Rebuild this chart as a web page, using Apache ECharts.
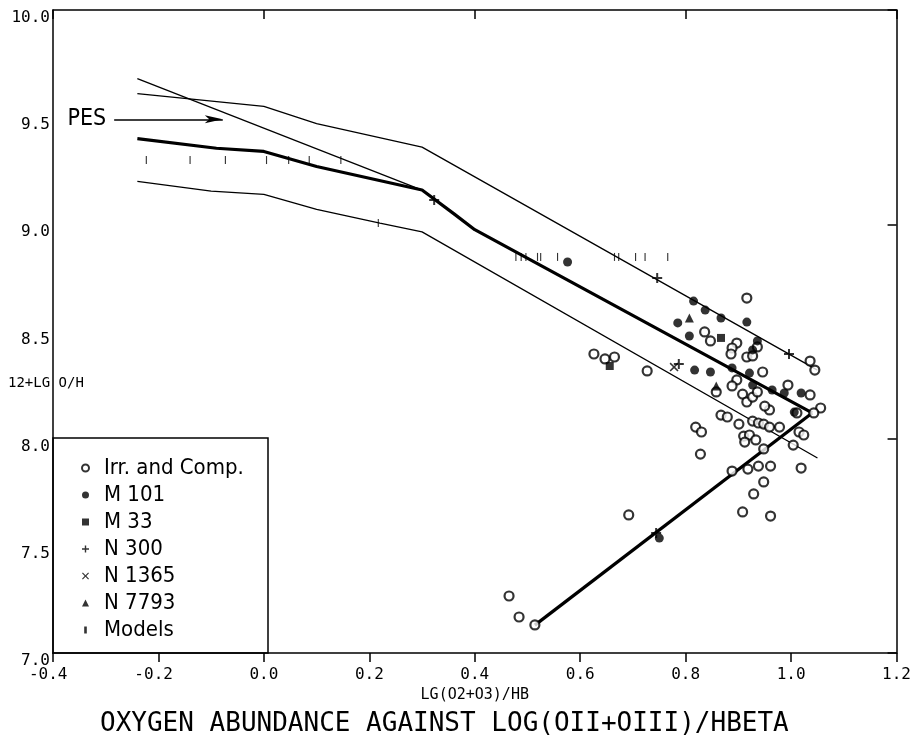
<!DOCTYPE html>
<html><head><meta charset="utf-8">
<script src="https://cdn.jsdelivr.net/npm/echarts@6/dist/echarts.min.js"></script>
<style>html,body{margin:0;padding:0;background:#fff}#c{width:914px;height:743px}</style>
</head><body><div id="c"></div>
<script>
// ---- axis ranges / tick labels ----
const xMin = -0.4, xMax = 1.2, xStep = 0.2;
const yMin = 7.0, yMax = 10.0, yStep = 0.5;

// ---- observed data ----
const irrComp = [
  [0.916,8.656],[0.836,8.498],[0.847,8.456],[0.897,8.446],[0.888,8.423],[0.886,8.395],
  [0.916,8.381],[0.927,8.386],[0.936,8.428],[1.036,8.362],[1.045,8.320],[0.946,8.311],
  [0.897,8.274],[0.888,8.246],[0.858,8.218],[0.908,8.208],[0.916,8.171],[0.927,8.194],
  [0.936,8.218],[0.994,8.250],[1.036,8.204],[0.959,8.134],[0.950,8.152],[1.056,8.143],
  [1.043,8.120],[1.011,8.120],[0.867,8.110],[0.879,8.101],[0.901,8.068],[0.927,8.082],
  [0.938,8.073],[0.948,8.068],[0.959,8.054],[0.978,8.054],[0.819,8.054],[0.830,8.031],
  [0.910,8.012],[0.921,8.017],[0.912,7.984],[0.933,7.994],[1.015,8.031],[1.024,8.017],
  [1.004,7.970],[0.828,7.928],[0.948,7.952],[0.888,7.849],[0.918,7.858],[0.938,7.872],
  [0.961,7.872],[1.019,7.863],[0.948,7.798],[0.929,7.742],[0.908,7.658],[0.961,7.639],
  [0.692,7.644],[0.626,8.395],[0.647,8.372],[0.665,8.381],[0.727,8.316],
  [0.465,7.266],[0.484,7.168],[0.514,7.131]
];
const m101 = [
  [0.815,8.642],[0.837,8.600],[0.867,8.563],[0.785,8.540],[0.916,8.544],[0.807,8.479],
  [0.936,8.456],[0.927,8.414],[0.817,8.320],[0.847,8.311],[0.888,8.330],[0.921,8.306],
  [0.927,8.250],[0.964,8.227],[0.987,8.213],[1.019,8.213],[1.006,8.124],
  [0.576,8.824],[0.750,7.536]
];
const m33 = [[0.867,8.470],[0.656,8.339]];
const n300 = [[0.996,8.395],[0.787,8.348],[0.746,8.750],[0.323,9.114],[0.744,7.560]];
const n1365 = [[0.778,8.334]];
const n7793 = [[0.807,8.563],[0.858,8.246]];
const models = [
  [-0.223,9.30],[-0.140,9.30],[-0.073,9.30],[0.005,9.30],[0.047,9.30],[0.086,9.30],[0.146,9.30],
  [0.217,9.006],
  [0.478,8.848],[0.488,8.848],[0.497,8.848],[0.519,8.848],[0.525,8.848],[0.557,8.848],
  [0.665,8.848],[0.673,8.848],[0.705,8.848],[0.723,8.848],[0.766,8.848]
];

// ---- calibration curves ----
const upperBand = [[-0.24,9.61],[0.0,9.55],[0.10,9.47],[0.30,9.36],[1.05,8.32]];
const diagLine  = [[-0.24,9.68],[0.30,9.16]];
const meanLine  = [[-0.24,9.40],[-0.09,9.355],[0.0,9.34],[0.10,9.27],[0.30,9.16],[0.36,9.05],[0.40,8.975],[1.04,8.12]];
const lowerBand = [[-0.24,9.20],[-0.10,9.155],[0.0,9.14],[0.10,9.07],[0.22,9.006],[0.30,8.965],[1.05,7.91]];
const lowBranch = [[0.514,7.13],[1.04,8.12]];

// ---- annotation ----
const pesArrow = [[-0.284,9.49],[-0.078,9.49]];

const MONO = '"DejaVu Sans Mono", monospace';
const COND = '"DejaVu Sans Condensed", "DejaVu Sans", sans-serif';
const PLUS = 'path://M4,0H6V4H10V6H6V10H4V6H0V4H4Z';
const CROSS = 'path://M1.2,0L5,3.8L8.8,0L10,1.2L6.2,5L10,8.8L8.8,10L5,6.2L1.2,10L0,8.8L3.8,5L0,1.2Z';
const BAR = 'path://M0,0H3V8H0Z';

const chart = echarts.init(document.getElementById('c'), null, {renderer: 'canvas'});

function curve(name, data, width) {
  return {
    name, type: 'line', data, showSymbol: false, symbol: 'none', silent: true,
    lineStyle: {color: '#000', width}, z: 2
  };
}
function scatter(name, data, symbol, size, itemStyle, extra) {
  return Object.assign({
    name, type: 'scatter', data, symbol, symbolSize: size,
    itemStyle: Object.assign({color: '#000'}, itemStyle || {}), z: 5
  }, extra || {});
}

const option = {
  animation: false,
  backgroundColor: '#fff',
  title: {
    text: 'OXYGEN ABUNDANCE AGAINST LOG(OII+OIII)/HBETA',
    left: 95, top: 706,
    textStyle: {fontFamily: MONO, fontSize: 26, fontWeight: 'normal', color: '#000'}
  },
  grid: {left: 53, top: 10, width: 852, height: 643, containLabel: false},
  legend: {
    orient: 'vertical', left: 76, top: 452,
    itemWidth: 7, itemHeight: 7, itemGap: 5,
    textStyle: {fontFamily: COND, fontSize: 22, color: '#000', padding: [0,0,0,10]},
    data: ['Irr. and Comp.', 'M 101', 'M 33', 'N 300', 'N 1365', 'N 7793', 'Models'],
    selectedMode: false
  },
  xAxis: [{
    type: 'value', min: xMin, max: xMax, interval: xStep, position: 'bottom',
    name: 'LG(O2+O3)/HB', nameLocation: 'middle', nameGap: 34,
    nameTextStyle: {fontFamily: MONO, fontSize: 15, color: '#000'},
    axisLine: {show: true, onZero: false, lineStyle: {color: '#000', width: 1.5}},
    axisTick: {show: true, inside: false, length: 9, lineStyle: {color: '#000', width: 1.5}},
    axisLabel: {
      fontFamily: MONO, fontSize: 16, color: '#000', margin: 14,
      formatter: v => (v < 0 ? v.toFixed(1) + ' ' : v.toFixed(1))
    },
    splitLine: {show: false}
  }, {
    type: 'value', min: xMin, max: xMax, interval: 0.4, position: 'top',
    axisLine: {show: true, onZero: false, lineStyle: {color: '#000', width: 1.5}},
    axisTick: {show: true, inside: true, length: 9, lineStyle: {color: '#000', width: 1.5}},
    axisLabel: {show: false}, splitLine: {show: false}
  }],
  yAxis: [{
    type: 'value', min: yMin, max: yMax, interval: yStep, position: 'left',
    axisLine: {show: true, onZero: false, lineStyle: {color: '#000', width: 1.5}},
    axisTick: {show: false},
    axisLabel: {
      fontFamily: MONO, fontSize: 16, color: '#000', margin: 3, verticalAlign: 'top',
      formatter: v => v.toFixed(1)
    },
    splitLine: {show: false}
  }, {
    type: 'value', min: yMin, max: yMax, interval: 1, position: 'right',
    axisLine: {show: true, onZero: false, lineStyle: {color: '#000', width: 1.5}},
    axisTick: {show: true, inside: true, length: 9, lineStyle: {color: '#000', width: 1.5}},
    axisLabel: {show: false}, splitLine: {show: false}
  }],
  graphic: [
    {type: 'rect', shape: {x: 53, y: 438, width: 215, height: 215},
     style: {fill: 'none', stroke: '#000', lineWidth: 1.5}, z: 1},
    {type: 'text', left: 8, top: 376,
     style: {text: '12+LG O/H', font: '14px "DejaVu Sans Mono", monospace', fill: '#000'}, z: 10}
  ],
  series: [
    curve('upper', upperBand, 1.3),
    curve('diag', diagLine, 1.3),
    curve('mean', meanLine, 3.2),
    curve('lower', lowerBand, 1.3),
    curve('branch', lowBranch, 3.2),
    scatter('Irr. and Comp.', irrComp, 'circle', 9, {color: '#fff', borderColor: '#000', borderWidth: 2.2}),
    scatter('M 101', m101, 'circle', 9),
    scatter('M 33', m33, 'rect', 8),
    scatter('N 300', n300, PLUS, 10),
    scatter('N 1365', n1365, CROSS, 9),
    scatter('N 7793', n7793, 'triangle', 9),
    scatter('Models', models, BAR, [3, 8], {}, {symbolKeepAspect: true}),
    {
      name: 'pes', type: 'line', data: [], silent: true,
      markLine: {
        silent: true, animation: false,
        symbol: ['none', 'arrow'], symbolSize: [6, 18],
        lineStyle: {color: '#000', width: 1.5, type: 'solid'},
        label: {show: true, position: 'start', distance: 8, formatter: 'PES',
                fontFamily: COND, fontSize: 23, color: '#000'},
        data: [[{coord: pesArrow[0]}, {coord: pesArrow[1]}]]
      }
    }
  ]
};
chart.setOption(option);
</script>
</body></html>
